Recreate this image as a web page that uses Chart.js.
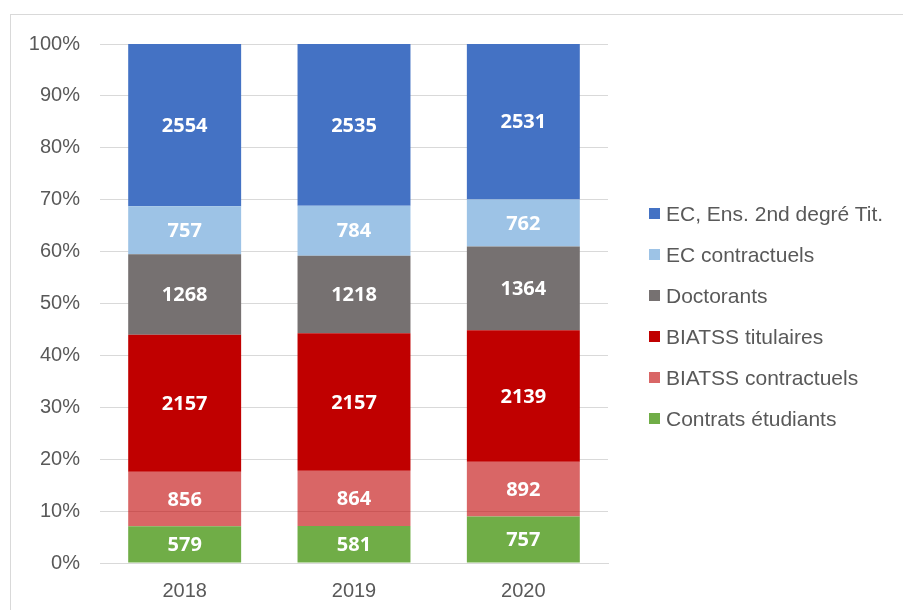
<!DOCTYPE html>
<html>
<head>
<meta charset="utf-8">
<script src="https://cdn.jsdelivr.net/npm/chart.js@4.4.1/dist/chart.umd.min.js"></script>
<style>
    body { margin: 0; background: #fff; overflow: hidden; }
    #wrap { position: relative; width: 903px; height: 610px; overflow: hidden; }
    #frame { position: absolute; left: 10px; top: 14px; width: 1000px; height: 1000px; border: 1px solid #d9d9d9; }
    #chart { position: absolute; left: 0; top: 0; }
    #legend { position: absolute; left: 649px; top: 193px; font-family: "Liberation Sans", Arial, sans-serif; font-size: 21px; color: #595959; }
    .row { height: 41px; display: flex; align-items: center; white-space: nowrap; }
    .box { width: 11px; height: 11px; margin-right: 6px; flex: none; }
</style>
</head>
<body>
<div id="wrap">
    <div id="frame"></div>
    <canvas id="chart" width="903" height="610"></canvas>
    <div id="legend"></div>
</div>
<script>
// Effectifs par catégorie et par année
const years = ['2018', '2019', '2020'];
const contratsEtudiants = [579, 581, 757];
const biatssContractuels = [856, 864, 892];
const biatssTitulaires = [2157, 2157, 2139];
const doctorants = [1268, 1218, 1364];
const ecContractuels = [757, 784, 762];
const ecTitulaires = [2554, 2535, 2531];
const yTicks = [0, 10, 20, 30, 40, 50, 60, 70, 80, 90, 100];

// ordre d'empilement : du bas vers le haut
const series = [
    { label: 'Contrats étudiants', raw: contratsEtudiants, color: '#70AD47' },
    { label: 'BIATSS contractuels', raw: biatssContractuels, color: 'rgba(192, 0, 0, 0.6)' },
    { label: 'BIATSS titulaires', raw: biatssTitulaires, color: '#C00000' },
    { label: 'Doctorants', raw: doctorants, color: '#767171' },
    { label: 'EC contractuels', raw: ecContractuels, color: '#9DC3E6' },
    { label: 'EC, Ens. 2nd degré Tit.', raw: ecTitulaires, color: '#4472C4' }
];

const totals = years.map((y, j) => series.reduce((s, d) => s + d.raw[j], 0));

const datasets = series.map(s => ({
    label: s.label,
    raw: s.raw,
    data: s.raw.map((v, j) => v / totals[j] * 100),
    backgroundColor: s.color,
    borderWidth: 0,
    categoryPercentage: 1,
    barPercentage: 0.667
}));

// valeurs brutes au centre de chaque segment
const segmentLabels = {
    id: 'segmentLabels',
    afterDatasetsDraw(chart) {
        const ctx = chart.ctx;
        ctx.save();
        ctx.font = 'bold 20px "Open Sans"';
        ctx.fillStyle = '#ffffff';
        ctx.textAlign = 'center';
        ctx.textBaseline = 'middle';
        chart.data.datasets.forEach((ds, i) => {
            chart.getDatasetMeta(i).data.forEach((bar, j) => {
                const p = bar.getProps(['x', 'y', 'base'], true);
                ctx.fillText(ds.raw[j], p.x, (p.y + p.base) / 2 + 1);
            });
        });
        ctx.restore();
    }
};

const tickFont = { family: '"Liberation Sans", Arial, sans-serif', size: 20 };

new Chart(document.getElementById('chart'), {
    type: 'bar',
    data: { labels: years, datasets: datasets },
    options: {
        responsive: false,
        animation: false,
        layout: { padding: { left: 0, top: 44, right: 295, bottom: 0 } },
        plugins: {
            legend: { display: false },
            tooltip: { enabled: false }
        },
        scales: {
            x: {
                stacked: true,
                grid: { display: false, drawTicks: false },
                border: { color: '#d9d9d9' },
                ticks: { color: '#595959', font: tickFont, padding: 16 },
                afterFit: s => { s.height = 47; }
            },
            y: {
                stacked: true,
                min: 0,
                max: 100,
                grid: { color: '#d9d9d9', lineWidth: 1, drawTicks: false },
                border: { display: false },
                afterBuildTicks: s => { s.ticks = yTicks.map(v => ({ value: v })); },
                ticks: { color: '#595959', font: tickFont, padding: 20, callback: v => v + '%' },
                afterFit: s => { s.width = 100; }
            }
        }
    },
    plugins: [segmentLabels]
});

// légende, du haut vers le bas
const legend = document.getElementById('legend');
series.slice().reverse().forEach(s => {
    const row = document.createElement('div');
    row.className = 'row';
    row.innerHTML = '<span class="box" style="background:' + s.color + '"></span><span>' + s.label + '</span>';
    legend.appendChild(row);
});
</script>
</body>
</html>
